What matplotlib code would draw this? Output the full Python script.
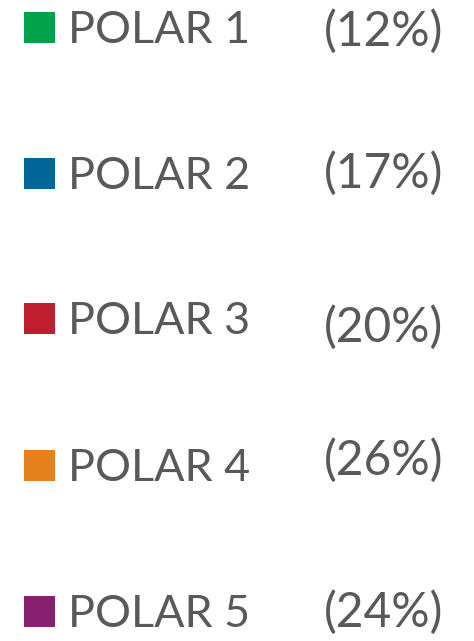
import matplotlib
matplotlib.use("Agg")
import matplotlib.pyplot as plt
from matplotlib.patches import Rectangle

labels = ["POLAR 1", "POLAR 2", "POLAR 3", "POLAR 4", "POLAR 5"]
shares = [12, 17, 20, 26, 24]
colors = ["#00A14B", "#006699", "#BE1E2D", "#E6821E", "#87216F"]

# layout (pixel coordinates)
baselines = [43, 189, 334, 481, 627]
pct_offsets = [3, -1, 8, -6, 0]

W, H = 474, 641
fig = plt.figure(figsize=(W / 100, H / 100), dpi=100)
ax = fig.add_axes([0, 0, 1, 1])
ax.set_xlim(0, W)
ax.set_ylim(H, 0)
ax.axis("off")

txt_color = "#595959"
for lab, s, c, b, o in zip(labels, shares, colors, baselines, pct_offsets):
    ax.add_patch(Rectangle((24, b - 31), 31, 31, facecolor=c, edgecolor="none"))
    ax.text(68, b, lab, fontsize=32.3, family="Lato", color=txt_color,
            ha="left", va="baseline")
    ax.text(443, b + o, f"({s}%)", fontsize=34.5, family="Lato", color=txt_color,
            ha="right", va="baseline")

fig.savefig("out.png", dpi=100)
